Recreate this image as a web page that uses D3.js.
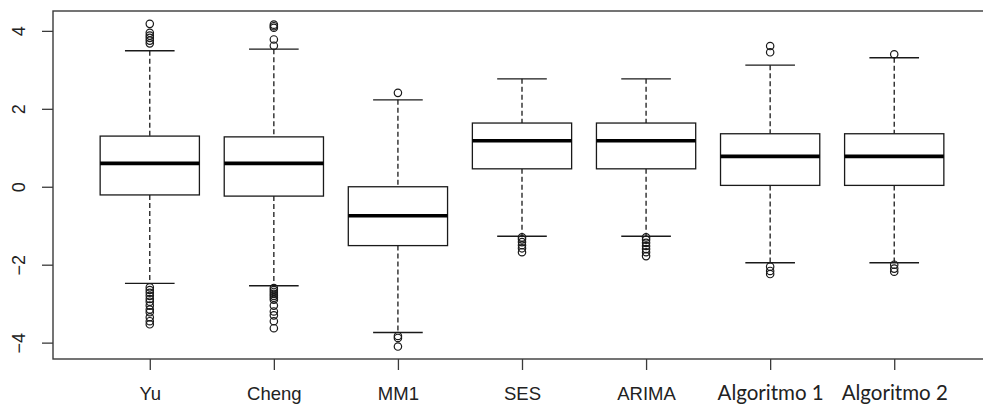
<!DOCTYPE html>
<html>
<head>
<meta charset="utf-8">
<script src="https://cdn.jsdelivr.net/npm/d3@7"></script>
<style>
  html, body { margin: 0; padding: 0; background: #fff; }
  svg { display: block; }
</style>
</head>
<body>
<svg id="chart" width="983" height="406"></svg>
<script>
// ---- data ----
const categories = ["Yu", "Cheng", "MM1", "SES", "ARIMA", "Algoritmo 1", "Algoritmo 2"];
const lowerWhisker = [-2.48, -2.54, -3.74, -1.27, -1.27, -1.95, -1.95];
const q1          = [-0.21, -0.24, -1.51, 0.46, 0.46, 0.035, 0.035];
const medians     = [0.60, 0.60, -0.745, 1.18, 1.18, 0.78, 0.78];
const q3          = [1.30, 1.28, 0.0, 1.635, 1.635, 1.36, 1.36];
const upperWhisker= [3.49, 3.53, 2.23, 2.77, 2.77, 3.12, 3.31];
const outliers = [
  [4.18, 3.95, 3.88, 3.82, 3.75, 3.68, -2.58, -2.65, -2.72, -2.8, -2.88, -2.95, -3.05, -3.15, -3.22, -3.35, -3.45, -3.53],
  [4.16, 4.12, 4.08, 3.78, 3.62, -2.6, -2.65, -2.7, -2.75, -2.8, -2.85, -2.9, -3.05, -3.2, -3.3, -3.45, -3.63],
  [2.41, -3.83, -3.88, -4.1],
  [-1.3, -1.35, -1.42, -1.5, -1.58, -1.68],
  [-1.3, -1.36, -1.44, -1.52, -1.6, -1.68, -1.78],
  [3.61, 3.45, -2.05, -2.16, -2.24],
  [3.40, -2.0, -2.1, -2.18]
];
const yTicks = [-4, -2, 0, 2, 4];

// ---- layout ----
const svg = d3.select("#chart");
const mLeft = 53, mTop = 11, mBottom = 359, mRight = 991;
const x = d3.scaleLinear().domain([0.22, categories.length + 0.78]).range([mLeft, mRight]);
const y = d3.scaleLinear().domain([-4.42, 4.51]).range([mBottom, mTop]);
const boxW = x(1.4) - x(1);   // half box width in px (0.4 units)
const capW = x(1.2) - x(1);   // half cap width
const ink = "#1a1a1a";

const data = categories.map((c, i) => ({
  c, i, pos: i + 1, lo: lowerWhisker[i], q1: q1[i], med: medians[i], q3: q3[i], hi: upperWhisker[i], out: outliers[i]
}));

const g = svg.append("g");
const boxes = g.selectAll("g.box").data(data).enter().append("g").attr("class", "box");

// whiskers (dashed)
boxes.append("line")
  .attr("x1", d => x(d.pos)).attr("x2", d => x(d.pos))
  .attr("y1", d => y(d.hi)).attr("y2", d => y(d.q3))
  .attr("stroke", ink).attr("stroke-width", 1.3).attr("stroke-dasharray", "5,3");
boxes.append("line")
  .attr("x1", d => x(d.pos)).attr("x2", d => x(d.pos))
  .attr("y1", d => y(d.q1)).attr("y2", d => y(d.lo))
  .attr("stroke", ink).attr("stroke-width", 1.3).attr("stroke-dasharray", "5,3");
// caps
["hi", "lo"].forEach(k => {
  boxes.append("line")
    .attr("x1", d => x(d.pos) - capW).attr("x2", d => x(d.pos) + capW)
    .attr("y1", d => y(d[k])).attr("y2", d => y(d[k]))
    .attr("stroke", ink).attr("stroke-width", 1.3);
});
// box
boxes.append("rect")
  .attr("x", d => x(d.pos) - boxW).attr("width", 2 * boxW)
  .attr("y", d => y(d.q3)).attr("height", d => y(d.q1) - y(d.q3))
  .attr("fill", "#fff").attr("stroke", ink).attr("stroke-width", 1.3);
// median
boxes.append("line")
  .attr("x1", d => x(d.pos) - boxW).attr("x2", d => x(d.pos) + boxW)
  .attr("y1", d => y(d.med)).attr("y2", d => y(d.med))
  .attr("stroke", "#000").attr("stroke-width", 3.6);
// outliers
boxes.each(function(d) {
  d3.select(this).selectAll("circle").data(d.out).enter().append("circle")
    .attr("cx", x(d.pos)).attr("cy", v => y(v)).attr("r", 3.7)
    .attr("fill", "none").attr("stroke", ink).attr("stroke-width", 1.2);
});

// frame
svg.append("rect")
  .attr("x", mLeft).attr("y", mTop).attr("width", mRight - mLeft).attr("height", mBottom - mTop)
  .attr("fill", "none").attr("stroke", "#3a3a3a").attr("stroke-width", 1.4);

// y axis
const yAxis = svg.append("g").attr("transform", `translate(${mLeft},0)`)
  .call(d3.axisLeft(y).tickValues(yTicks).tickSize(11).tickFormat(d3.format("d")));
yAxis.select(".domain").remove();
yAxis.selectAll(".tick line").attr("stroke", "#3a3a3a").attr("stroke-width", 1.3);
yAxis.selectAll(".tick text")
  .attr("x", 0).attr("y", -28).attr("dy", 0)
  .attr("transform", "rotate(-90)")
  .attr("text-anchor", "middle")
  .attr("fill", "#222")
  .style("font-family", "'Liberation Sans', Arial, sans-serif")
  .style("font-size", "18px");

// x axis
const xAxis = svg.append("g").attr("transform", `translate(0,${mBottom})`)
  .call(d3.axisBottom(x).tickValues(data.map(d => d.pos)).tickSize(11).tickFormat(v => categories[v - 1]));
xAxis.select(".domain").remove();
xAxis.selectAll(".tick line").attr("stroke", "#3a3a3a").attr("stroke-width", 1.3);
xAxis.selectAll(".tick text")
  .attr("y", 41).attr("dy", 0)
  .attr("fill", "#222")
  .style("font-family", v => v >= 6 ? "Lato, 'Open Sans', sans-serif" : "'Liberation Sans', Arial, sans-serif")
  .style("font-size", v => v >= 6 ? "20.5px" : "18.5px");
</script>
</body>
</html>
